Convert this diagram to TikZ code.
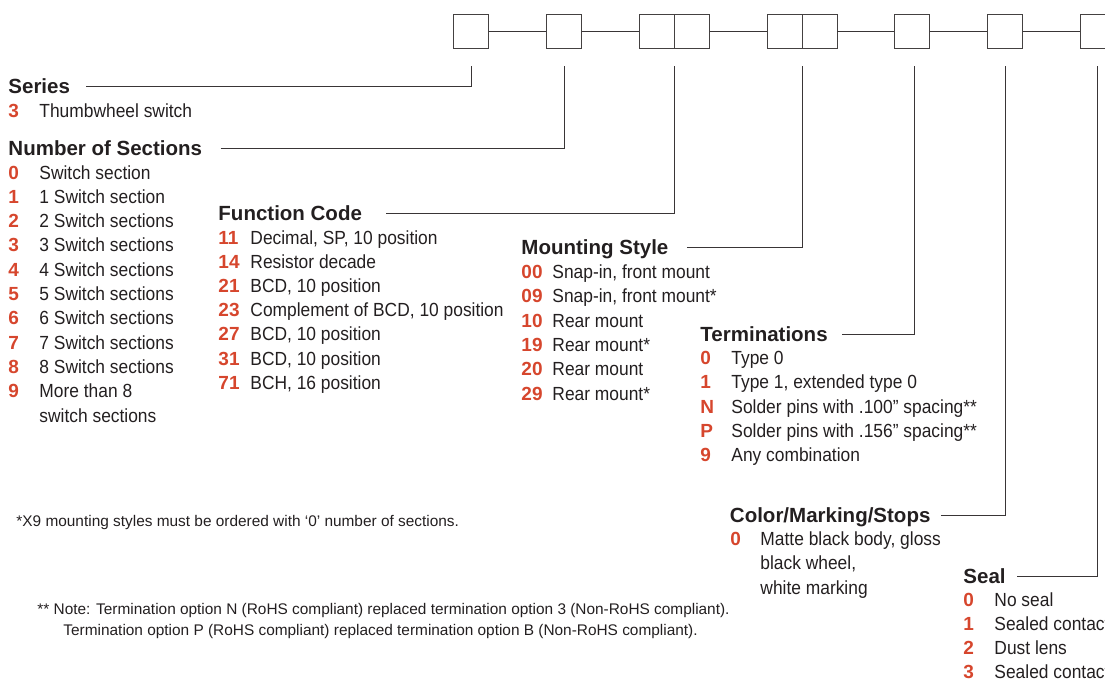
\documentclass[tikz,border=0pt]{standalone}
\usepackage{fontspec}
\setmainfont{Liberation Sans}
\newfontfamily\condfont[FakeStretch=0.915]{Liberation Sans}
\definecolor{codered}{RGB}{214,70,45}
\definecolor{ink}{RGB}{35,31,32}
\begin{document}
\begin{tikzpicture}[x=1pt,y=-1pt,
        line width=0.9pt,
        every node/.style={inner sep=0pt,text=ink},
        box/.style={draw=ink!85,minimum width=35pt,minimum height=34pt,anchor=north west},
        lead/.style={draw=ink!90},
        head/.style={anchor=base west,font=\fontsize{20.5}{24}\selectfont\bfseries,text height=14pt,text depth=0pt},
        code/.style={anchor=base west,font=\fontsize{19}{24}\selectfont\bfseries,text=codered},
        desc/.style={anchor=base west,font=\condfont\fontsize{19}{24}\selectfont},
        note/.style={anchor=base west,font=\fontsize{15.4}{20}\selectfont}]
    \useasboundingbox (0,0) rectangle (1105,683);
    % ordering boxes
    \node[box] (b1) at (453,14) {};
    \node[box] (b2) at (546,14) {};
    \node[box] (b3a) at (639,14) {};
    \node[box] (b3b) at (674,14) {};
    \node[box] (b4a) at (766.5,14) {};
    \node[box] (b4b) at (801.5,14) {};
    \node[box] (b5) at (894,14) {};
    \node[box] (b6) at (987,14) {};
    \node[box] (b7) at (1079.5,14) {};
    \draw[lead] (b1) -- (b2) (b2) -- (b3a) (b3b) -- (b4a) (b4b) -- (b5) (b5) -- (b6) (b6) -- (b7);
    % headings
    \node[head] (hSeries) at (8,93) {Series};
    \node[head] (hSect) at (8,155) {Number of Sections};
    \node[head] (hFunc) at (218,220) {Function Code};
    \node[head] (hMount) at (521,254) {Mounting Style};
    \node[head] (hTerm) at (700,341) {Terminations};
    \node[head] (hColor) at (729.5,522) {Color/Marking/Stops};
    \node[head] (hSeal) at (963,583) {Seal};
    % leaders
    \draw[lead] ([xshift=16pt]hSeries.east) -| ([yshift=-17pt]b1.south);
    \draw[lead] ([xshift=18pt]hSect.east) -| ([yshift=-17pt]b2.south);
    \draw[lead] ([xshift=24pt]hFunc.east) -| ([yshift=-17pt]b3a.south east);
    \draw[lead] ([xshift=18pt]hMount.east) -| ([yshift=-17pt]b4a.south east);
    \draw[lead] ([xshift=14pt]hTerm.east) -| ([xshift=2.5pt,yshift=-17pt]b5.south);
    \draw[lead] ([xshift=10pt]hColor.east) -| ([xshift=0.5pt,yshift=-17pt]b6.south);
    \draw[lead] ([xshift=11pt]hSeal.east) -| ([yshift=-17pt]b7.south);
    % series
    \node[code] (s0) at (8,117) {3};
    \node[desc] (s0t) at (39,117) {Thumbwheel switch};
    % number of sections
    \foreach \c/\t [count=\i from 0] in {0/Switch section,1/1 Switch section,2/2 Switch sections,
            3/3 Switch sections,4/4 Switch sections,5/5 Switch sections,6/6 Switch sections,
            7/7 Switch sections,8/8 Switch sections,9/More than 8} {
        \node[code] (n\i) at (8,179+24.3*\i) {\c};
        \node[desc] (n\i t) at (39,179+24.3*\i) {\t};
    }
    \node[desc] (n9u) at (39,422) {switch sections};
    % function code
    \foreach \c/\t [count=\i from 0] in {11/{Decimal, SP, 10 position},14/Resistor decade,
            21/{BCD, 10 position},23/{Complement of BCD, 10 position},27/{BCD, 10 position},
            31/{BCD, 10 position},71/{BCH, 16 position}} {
        \node[code] (f\i) at (218,244+24.2*\i) {\c};
        \node[desc] (f\i t) at (250,244+24.2*\i) {\t};
    }
    % mounting style
    \foreach \c/\t [count=\i from 0] in {00/{Snap-in, front mount},09/{Snap-in, front mount*},
            10/Rear mount,19/Rear mount*,20/Rear mount,29/Rear mount*} {
        \node[code] (m\i) at (521,278.5+24.3*\i) {\c};
        \node[desc] (m\i t) at (552,278.5+24.3*\i) {\t};
    }
    % terminations
    \foreach \c/\t [count=\i from 0] in {0/Type 0,1/{Type 1, extended type 0},
            N/Solder pins with .100” spacing**,P/Solder pins with .156” spacing**,9/Any combination} {
        \node[code] (t\i) at (700,364.5+24.3*\i) {\c};
        \node[desc] (t\i t) at (731,364.5+24.3*\i) {\t};
    }
    % color / marking / stops
    \node[code] (c0) at (730,545.5) {0};
    \node[desc] (c0t) at (760,545.5) {Matte black body, gloss};
    \node[desc] (c0u) at (760,569.8) {black wheel,};
    \node[desc] (c0v) at (760,594.1) {white marking};
    % seal
    \foreach \c/\t [count=\i from 0] in {0/No seal,1/Sealed contact,2/Dust lens,3/Sealed contact} {
        \node[code] (e\i) at (963,606+24.3*\i) {\c};
        \node[desc] (e\i t) at (994,606+24.3*\i) {\t};
    }
    % notes
    \node[note] (note1) at (16,526) {*X9 mounting styles must be ordered with ‘0’ number of sections.};
    \node[note] (note2) at (37,614) {** Note: Termination option N (RoHS compliant) replaced termination option 3 (Non-RoHS compliant).};
    \node[note] (note3) at (63,635) {Termination option P (RoHS compliant) replaced termination option B (Non-RoHS compliant).};
\end{tikzpicture}
\end{document}
